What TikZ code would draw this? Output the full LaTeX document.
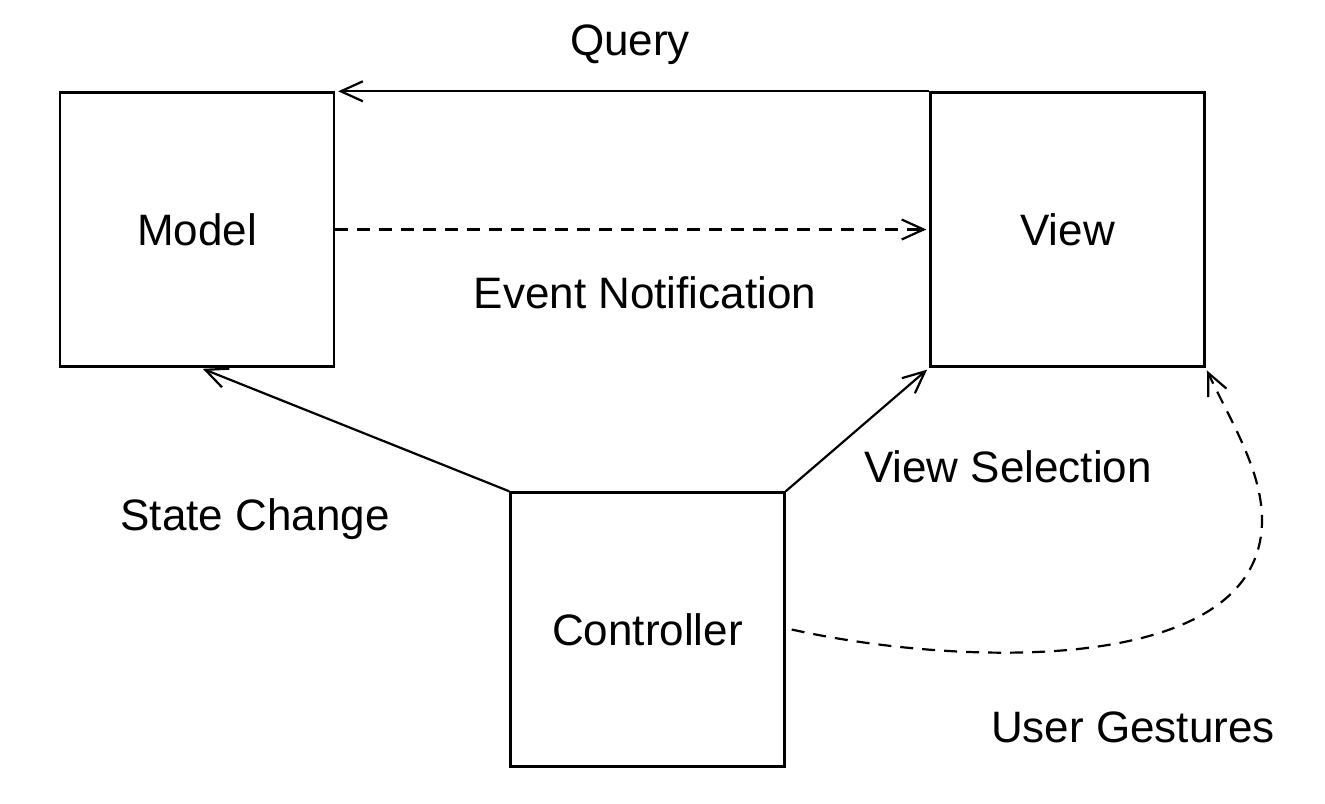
\documentclass[tikz,border=0pt]{standalone}
\usepackage{fontspec}
\setmainfont{Liberation Sans}
\usetikzlibrary{arrows.meta}
\tikzset{
 blk/.style={draw,line width=1.2pt,minimum width=137pt,minimum height=137pt,inner sep=0pt},
 lbl/.style={inner sep=0pt},
 conn/.style={line width=1.1pt,shorten >=1.5pt,-{Straight Barb[length=11pt,width=10pt]}},
 dsh/.style={conn,dash pattern=on 6.5pt off 4.5pt},
}
\begin{document}
\begin{tikzpicture}[x=0.5pt,y=-0.5pt,font=\fontsize{22}{26}\selectfont]
\useasboundingbox (0,0) rectangle (1325,803);

% boxes
\node[blk] (model) at (197,229.5) {Model};
\node[blk] (view) at (1067.5,229.5) {View};
\node[blk] (ctrl) at (647.5,629.5) {Controller};

% connectors
\draw[conn] (view.north west) -- (model.north east);
\draw[dsh] (model.east) -- (view.west);
\draw[conn] (ctrl.north west) -- ([xshift=1.5pt]model.south);
\draw[conn] (ctrl.north east) -- (view.south west);
\coordinate (ug) at (1262,520);
\draw[dsh] ([xshift=3pt]ctrl.east) .. controls (950,665) and (1262,680) .. (ug)
 .. controls (1262,470) and (1230,420) .. (view.south east);

% labels
\node[lbl] (query) at (630,45) {Query};
\node[lbl] (event) at (645,293) {Event Notification};
\node[lbl] (state) at (255,519) {State Change};
\node[lbl] (vsel) at (1008,467) {View Selection};
\node[lbl] (gest) at (1133,727) {User Gestures};
\end{tikzpicture}
\end{document}
